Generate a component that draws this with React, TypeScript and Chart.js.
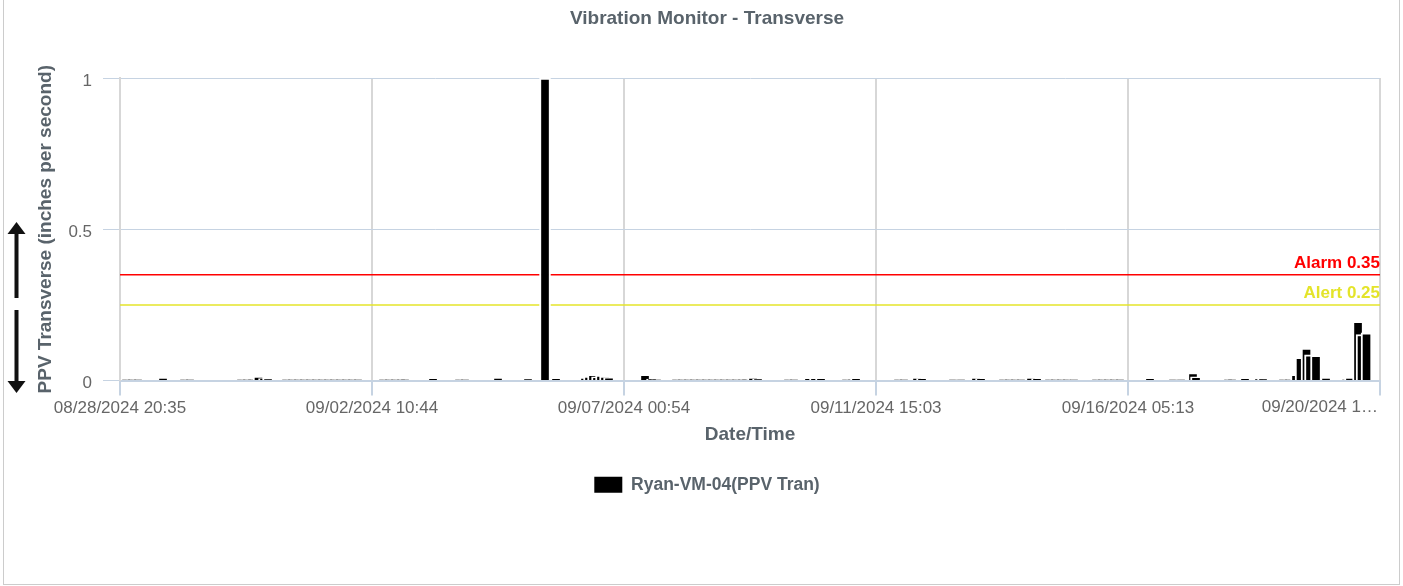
import React, { useEffect, useRef } from 'react';
import { Chart, registerables } from 'chart.js';

Chart.register(...registerables);

const FAMILY = "'Liberation Sans', Arial, Helvetica, sans-serif";
Chart.defaults.font.family = FAMILY;

// Hours elapsed since 08/28/2024 20:35 for each reading
const hours: number[] = [
  2.62, 5.25, 7.87, 18.8, 27.98, 30.6, 52.89, 55.52, 57.7, 60.54, 62.95, 64.7,
  72.57, 75.19, 77.81, 80.43, 83.06, 85.68, 88.3, 90.93, 93.55, 96.17, 98.8, 101.42, 104.04,
  114.97, 117.59, 120.21, 122.84, 124.58, 136.83, 148.19, 150.81, 165.24, 178.35,
  185.78, 190.59, 203.27, 205.02, 206.77, 208.52, 210.26, 212.01, 213.76,
  229.5, 232.56, 234.74, 243.05, 245.67, 248.3, 250.92, 253.54, 256.17, 258.79, 261.41,
  264.03, 266.66, 269.28, 271.9, 273.65, 276.71, 278.9, 292.01, 294.63, 301.19, 303.81,
  306.44, 317.37, 319.99, 321.74, 340.1, 342.72, 348.41, 350.59, 364.14, 367.64, 374.19,
  376.38, 386.0, 388.62, 391.24, 393.86, 398.24, 400.86, 406.11, 408.73, 411.35, 413.97,
  417.03, 426.65, 429.27, 431.89, 434.52, 437.14, 450.25, 460.31, 463.81, 469.05, 470.37,
  484.36, 486.11, 491.79, 497.91, 499.66, 508.4, 511.03, 514.09, 516.06, 518.68, 520.21,
  522.83, 527.21, 535.95, 537.68, 541.2, 542.73, 544.91,
];

// PPV transverse (in/s)
const ppv: number[] = [
  0.0025, 0.0025, 0.0025, 0.008, 0.0025, 0.0025, 0.0025, 0.0025, 0.0025, 0.014, 0.006, 0.004,
  0.0025, 0.0025, 0.0025, 0.0025, 0.0025, 0.0025, 0.0025, 0.0025, 0.0025, 0.0025, 0.0025, 0.0025, 0.0025,
  0.0025, 0.0025, 0.0025, 0.0025, 0.0025, 0.006, 0.0025, 0.0025, 0.008, 0.005,
  1.0, 0.006, 0.008, 0.015, 0.02, 0.012, 0.018, 0.014, 0.01,
  0.02, 0.005, 0.0025, 0.0025, 0.0025, 0.0025, 0.0025, 0.0025, 0.0025, 0.0025, 0.0025,
  0.0025, 0.0025, 0.0025, 0.0025, 0.0025, 0.008, 0.004, 0.0025, 0.0025, 0.006, 0.006,
  0.006, 0.0025, 0.0025, 0.006, 0.0025, 0.0025, 0.008, 0.006, 0.0025, 0.0025, 0.008,
  0.006, 0.0025, 0.0025, 0.0025, 0.0025, 0.008, 0.006, 0.0025, 0.0025, 0.0025, 0.0025,
  0.0025, 0.0025, 0.0025, 0.0025, 0.0025, 0.0025, 0.006, 0.0025, 0.0025, 0.026, 0.012,
  0.0025, 0.0025, 0.006, 0.005, 0.005, 0.0025, 0.0025, 0.02, 0.077, 0.107, 0.085,
  0.083, 0.007, 0.0025, 0.008, 0.196, 0.152, 0.158,
];

const xTickLabels: string[] = [
  '08/28/2024 20:35',
  '09/02/2024 10:44',
  '09/07/2024 00:54',
  '09/11/2024 15:03',
  '09/16/2024 05:13',
  '09/20/2024 1…',
];
const spanHours = 550.8;

const thresholdValues: number[] = [0.35, 0.25];
const thresholdLabels: string[] = ['Alarm 0.35', 'Alert 0.25'];
const thresholdColors: string[] = ['#ff0000', '#e4e42a'];

const seriesLabel = 'Ryan-VM-04(PPV Tran)';
const chartTitle = 'Vibration Monitor - Transverse';
const xTitle = 'Date/Time';
const yTitle = 'PPV Transverse (inches per second)';

const TEXT = '#59636b';
const TICK = '#666666';
const BLUE = '#c6d3e2';
const GRAY = '#d7d7d7';
const TICK_SIZE = 17;

const decorPlugin = {
  id: 'decor',
  beforeDatasetsDraw(chart: any) {
    const { ctx, chartArea, scales } = chart;
    ctx.save();
    thresholdValues.forEach((v, i) => {
      const y = scales.y.getPixelForValue(v);
      ctx.strokeStyle = thresholdColors[i];
      ctx.lineWidth = 1.5;
      ctx.beginPath();
      ctx.moveTo(chartArea.left, y);
      ctx.lineTo(chartArea.right, y);
      ctx.stroke();
    });
    ctx.restore();
  },
  afterDraw(chart: any) {
    const { ctx, chartArea, scales } = chart;
    ctx.save();
    ctx.font = `bold 17px ${FAMILY}`;
    ctx.textAlign = 'right';
    ctx.textBaseline = 'bottom';
    thresholdValues.forEach((v, i) => {
      const y = scales.y.getPixelForValue(v);
      ctx.fillStyle = thresholdColors[i];
      ctx.fillText(thresholdLabels[i], chartArea.right, y - 3);
    });
    // last x tick label, kept inside the chart edge
    const xs = scales.x;
    ctx.font = `${TICK_SIZE}px ${FAMILY}`;
    ctx.fillStyle = TICK;
    ctx.textBaseline = 'top';
    ctx.textAlign = 'right';
    ctx.fillText(xTickLabels[xTickLabels.length - 1], chartArea.right - 2, xs.top + 15 + 3);
    // up/down arrow decoration beside the y-axis title
    ctx.fillStyle = '#111';
    const cx = 16.5;
    ctx.beginPath();
    ctx.moveTo(cx, 222);
    ctx.lineTo(cx - 9, 234);
    ctx.lineTo(cx + 9, 234);
    ctx.closePath();
    ctx.fill();
    ctx.fillRect(cx - 2, 233, 4, 65);
    ctx.fillRect(cx - 2, 310, 4, 72);
    ctx.beginPath();
    ctx.moveTo(cx - 9, 381);
    ctx.lineTo(cx + 9, 381);
    ctx.lineTo(cx, 393);
    ctx.closePath();
    ctx.fill();
    ctx.restore();
  },
};

export default function App() {
  const ref = useRef<HTMLCanvasElement>(null);

  useEffect(() => {
    if (!ref.current) return;
    const chart = new Chart(ref.current, {
      type: 'bar',
      data: {
        datasets: [
          {
            label: seriesLabel,
            data: hours.map((h, i) => ({ x: h, y: ppv[i] })),
            backgroundColor: '#000000',
            borderColor: '#ffffff',
            borderWidth: 2,
            barThickness: 11,
          } as any,
        ],
      },
      options: {
        responsive: false,
        animation: false,
        devicePixelRatio: 1,
        layout: { padding: { left: 34, right: 23, top: 0, bottom: 82.5 } },
        plugins: {
          title: {
            display: true,
            text: chartTitle,
            color: TEXT,
            font: { size: 19, weight: 'bold', family: FAMILY },
            padding: { top: 7, bottom: 48.2 },
          },
          legend: {
            position: 'bottom',
            labels: {
              boxWidth: 28,
              boxHeight: 16,
              color: TEXT,
              font: { size: 17.5, weight: 'bold', family: FAMILY },
              generateLabels: (c: any) =>
                Chart.defaults.plugins.legend.labels
                  .generateLabels(c)
                  .map((it: any) => ({ ...it, fillStyle: '#000', strokeStyle: '#000', lineWidth: 0 })),
            },
          },
          tooltip: { enabled: false },
        },
        scales: {
          x: {
            type: 'linear',
            min: 0,
            max: spanHours,
            offset: false,
            grid: { offset: false, color: GRAY, lineWidth: 2, tickColor: BLUE, tickLength: 15, tickWidth: 2 },
            border: { color: BLUE, width: 2 },
            ticks: {
              count: 6,
              maxRotation: 0,
              minRotation: 0,
              autoSkip: false,
              padding: 3,
              color: TICK,
              font: { size: TICK_SIZE, family: FAMILY },
              callback: (_v: any, i: number) => (i === xTickLabels.length - 1 ? '' : xTickLabels[i]),
            },
            title: {
              display: true,
              text: xTitle,
              color: TEXT,
              font: { size: 19, weight: 'bold', family: FAMILY },
              padding: { top: 1.6, bottom: 19.7 },
            },
          } as any,
          y: {
            min: 0,
            max: 1,
            grid: { color: BLUE, lineWidth: 1, tickLength: 17, tickColor: BLUE },
            border: { color: GRAY, width: 2 },
            ticks: {
              stepSize: 0.5,
              padding: 11,
              labelOffset: 3,
              color: TICK,
              font: { size: TICK_SIZE, family: FAMILY },
              callback: (v: any) => `${+v}`,
            },
            title: {
              display: true,
              text: yTitle,
              color: TEXT,
              font: { size: 19, weight: 'bold', family: FAMILY },
              padding: { top: 0, bottom: 0.6 },
            },
          },
        },
      },
      plugins: [decorPlugin],
    });
    return () => chart.destroy();
  }, []);

  return (
    <div style={{ position: 'fixed', left: 0, top: 0, width: 1403, height: 586, background: '#ffffff', overflow: 'hidden' }}>
      <div
        style={{
          position: 'absolute',
          left: 3,
          top: -10,
          width: 1397,
          height: 595,
          border: '1px solid #cccccc',
          boxSizing: 'border-box',
        }}
      />
      <canvas ref={ref} width={1403} height={586} style={{ position: 'absolute', left: 0, top: 0, width: 1403, height: 586 }} />
    </div>
  );
}
